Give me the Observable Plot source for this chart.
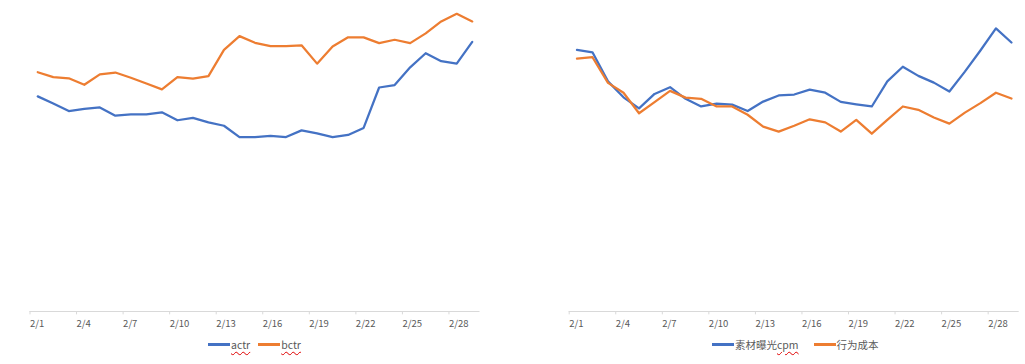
<!DOCTYPE html>
<html>
<head>
<meta charset="utf-8">
<script src="https://cdn.jsdelivr.net/npm/d3@7"></script>
<script src="https://cdn.jsdelivr.net/npm/@observablehq/plot@0.6"></script>
<style>
  html, body { margin: 0; padding: 0; background: #fff; }
  #root { position: relative; width: 1025px; height: 364px; font-family: "Noto Sans CJK SC", "Noto Sans", sans-serif; }
  .panel { position: absolute; top: 0; }
  .legend { position: absolute; top: 337px; display: flex; align-items: center; height: 14px; font-size: 10.5px; color: #595959; white-space: nowrap; }
  .sw { display: inline-block; width: 22px; height: 3px; margin-right: 1px; }
  .item { display: inline-flex; align-items: center; margin-right: 8px; }
  .spell { text-decoration: underline wavy #e00000; text-decoration-thickness: 1px; text-underline-offset: 2px; }
</style>
</head>
<body>
<div id="root">
  <div id="left" class="panel" style="left:0px"></div>
  <div id="right" class="panel" style="left:520px"></div>
  <div class="legend" style="left:208px">
    <span class="item"><span class="sw" style="background:#4472C4"></span><span class="spell">actr</span></span>
    <span class="item"><span class="sw" style="background:#ED7D31"></span><span class="spell">bctr</span></span>
  </div>
  <div class="legend" style="left:712px">
    <span class="item" style="margin-right:15px"><span class="sw" style="background:#4472C4"></span>素材曝光<span class="spell">cpm</span></span>
    <span class="item"><span class="sw" style="background:#ED7D31"></span>行为成本</span>
  </div>
</div>
<script>
const days = ["2/1","2/2","2/3","2/4","2/5","2/6","2/7","2/8","2/9","2/10","2/11","2/12","2/13","2/14","2/15","2/16","2/17","2/18","2/19","2/20","2/21","2/22","2/23","2/24","2/25","2/26","2/27","2/28","2/29"];
const tickLabels = ["2/1","2/4","2/7","2/10","2/13","2/16","2/19","2/22","2/25","2/28"];

// left panel
const actr = [70.3,68.0,65.5,66.2,66.7,64.0,64.4,64.4,65.1,62.5,63.3,61.8,60.7,57.0,57.0,57.4,57.0,59.2,58.2,57.0,57.7,60.0,73.2,74.0,79.8,84.4,81.8,81.0,88.1];
const bctr = [78.2,76.6,76.2,74.1,77.5,78.1,76.4,74.5,72.6,76.6,76.1,76.9,85.5,90.0,87.8,86.7,86.7,87.0,81.0,86.6,89.6,89.6,87.7,88.8,87.7,90.9,94.8,97.3,94.8];

// right panel
const cpm = [85.5,84.7,75.2,70.0,66.4,71.1,73.3,69.5,67.0,67.9,67.6,65.5,68.6,70.6,70.9,72.5,71.5,68.5,67.7,67.0,75.2,80.0,77.0,74.8,71.9,78.4,85.3,92.5,87.9];
const cost = [82.6,83.1,74.7,71.5,64.8,68.4,72.1,69.9,69.5,67.0,67.0,64.3,60.4,58.8,60.7,62.8,61.8,58.8,62.6,58.1,62.6,67.0,65.9,63.4,61.4,65.0,68.1,71.5,69.6];

const BLUE = "#4472C4", ORANGE = "#ED7D31";

function panel(seriesA, seriesB, width, marginLeft, marginRight) {
  const rows = days.map((d, i) => ({i, day: d, a: seriesA[i], b: seriesB[i]}));
  const ticks = tickLabels.map(t => ({pos: days.indexOf(t), label: t}));
  return Plot.plot({
    width,
    height: 340,
    marginTop: 5,
    marginBottom: 29,
    marginLeft,
    marginRight,
    x: {domain: [0, days.length], axis: null},
    y: {domain: [0, 100], axis: null},
    style: {fontFamily: "'Noto Sans CJK SC', 'Noto Sans', sans-serif", background: "#fff"},
    marks: [
      Plot.ruleY([0], {stroke: "#d9d9d9", strokeWidth: 1}),
      Plot.ruleX(ticks, {x: "pos", y1: 0, y2: -1.1, stroke: "#d9d9d9", strokeWidth: 1}),
      Plot.text(ticks, {x: "pos", y: 0, dy: 12, text: "label", textAnchor: "start", fill: "#595959", fontSize: 9.5}),
      Plot.line(rows, {x: d => d.i + 0.5, y: "a", stroke: BLUE, strokeWidth: 2.25, strokeLinejoin: "round", strokeLinecap: "round"}),
      Plot.line(rows, {x: d => d.i + 0.5, y: "b", stroke: ORANGE, strokeWidth: 2.25, strokeLinejoin: "round", strokeLinecap: "round"})
    ]
  });
}

document.getElementById("left").appendChild(panel(actr, bctr, 500, 29.5, 20.5));
document.getElementById("right").appendChild(panel(cpm, cost, 505, 48.7, 6.3));
</script>
</body>
</html>
